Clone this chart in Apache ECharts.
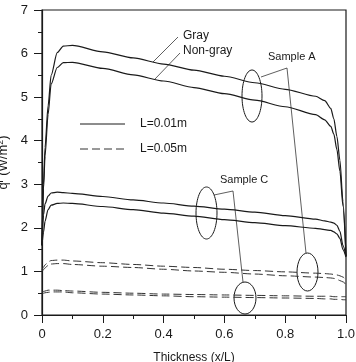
<!DOCTYPE html>
<html>
<head>
<meta charset="utf-8">
<script src="https://cdn.jsdelivr.net/npm/echarts@6/dist/echarts.min.js"></script>
<style>html,body{margin:0;padding:0;background:#fff;}#c{width:356px;height:362px;}</style>
</head>
<body>
<div id="c"></div>
<script>
// Data
var xValues = [0, 0.005, 0.01, 0.02, 0.03, 0.05, 0.07, 0.1, 0.2, 0.3, 0.4, 0.5, 0.6, 0.7, 0.8, 0.9, 0.93, 0.95, 0.96, 0.97, 0.98, 0.99, 1.0];
var grayA_L001    = [1.6, 3.0, 3.85, 4.8, 5.5, 6.02, 6.17, 6.19, 6.04, 5.9, 5.76, 5.62, 5.48, 5.33, 5.18, 5.02, 4.92, 4.74, 4.5, 4.1, 3.55, 2.6, 1.35];
var nongrayA_L001 = [1.6, 2.9, 3.65, 4.6, 5.3, 5.68, 5.79, 5.8, 5.66, 5.51, 5.37, 5.22, 5.08, 4.93, 4.78, 4.6, 4.48, 4.33, 4.15, 3.8, 3.3, 2.5, 1.35];
var grayC_L001    = [1.6, 2.3, 2.55, 2.73, 2.8, 2.82, 2.81, 2.79, 2.72, 2.64, 2.57, 2.5, 2.43, 2.36, 2.28, 2.2, 2.16, 2.13, 2.11, 2.06, 1.92, 1.6, 1.35];
var nongrayC_L001 = [1.6, 1.9, 2.15, 2.42, 2.52, 2.56, 2.57, 2.56, 2.49, 2.42, 2.34, 2.27, 2.19, 2.12, 2.05, 1.99, 1.96, 1.94, 1.91, 1.86, 1.76, 1.5, 1.33];
var grayA_L005    = [1.03, 1.1, 1.15, 1.22, 1.25, 1.26, 1.26, 1.24, 1.2, 1.16, 1.12, 1.09, 1.05, 1.02, 0.99, 0.96, 0.95, 0.94, 0.93, 0.92, 0.9, 0.87, 0.8];
var nongrayA_L005 = [1.0, 1.04, 1.08, 1.14, 1.17, 1.18, 1.18, 1.16, 1.12, 1.09, 1.05, 1.01, 0.98, 0.94, 0.9, 0.87, 0.86, 0.85, 0.84, 0.82, 0.79, 0.76, 0.7];
var grayC_L005    = [0.52, 0.54, 0.55, 0.57, 0.57, 0.57, 0.56, 0.55, 0.52, 0.5, 0.48, 0.47, 0.46, 0.45, 0.44, 0.43, 0.43, 0.43, 0.42, 0.42, 0.42, 0.42, 0.42];
var nongrayC_L005 = [0.48, 0.5, 0.51, 0.52, 0.53, 0.53, 0.53, 0.51, 0.48, 0.46, 0.44, 0.42, 0.41, 0.40, 0.39, 0.38, 0.37, 0.37, 0.36, 0.36, 0.36, 0.35, 0.35];
var xTickLabels = ['0', '0.2', '0.4', '0.6', '0.8', '1.0'];
var yTickLabels = ['0', '1', '2', '3', '4', '5', '6', '7'];

function pairs(ys) { return xValues.map(function (x, i) { return [x, ys[i]]; }); }

var FONT = 'Liberation Sans, Arial, sans-serif';
var INK = '#1a1a1a';

function solid(name, ys) {
  return { name: name, type: 'line', data: pairs(ys), symbol: 'none', smooth: 0.25, smoothMonotone: 'x',
    lineStyle: { color: INK, width: 1.2, type: 'solid' }, silent: true };
}
function dashed(name, ys) {
  return { name: name, type: 'line', data: pairs(ys), symbol: 'none', smooth: 0.25, smoothMonotone: 'x',
    lineStyle: { color: '#333', width: 1, type: [8, 4] }, silent: true };
}

var chart = echarts.init(document.getElementById('c'), null, { renderer: 'canvas' });
var option = {
  animation: false,
  backgroundColor: '#fff',
  grid: { left: 42, top: 10, right: 10, bottom: 47, show: true, borderColor: INK, borderWidth: 1.2,
    containLabel: false, outerBoundsMode: 'none' },
  xAxis: {
    type: 'value', min: 0, max: 1, interval: 0.2,
    name: 'Thickness (x/L)', nameLocation: 'middle', nameGap: 37,
    nameTextStyle: { fontFamily: FONT, fontSize: 12, color: INK },
    axisLine: { lineStyle: { color: INK, width: 1.2 } },
    axisTick: { show: true, inside: false, length: 8, lineStyle: { color: INK } },
    minorTick: { show: true, splitNumber: 2, length: 4, lineStyle: { color: INK } },
    splitLine: { show: false },
    axisLabel: { fontFamily: FONT, fontSize: 13, color: INK, margin: 13,
      formatter: function (v) { return xTickLabels[Math.round(v / 0.2)]; } }
  },
  yAxis: {
    type: 'value', min: 0, max: 7, interval: 1,
    name: '{a|q}{s|r}{a| (W/m}{s|2}{a|)}', nameLocation: 'middle', nameGap: 29,
    nameTextStyle: { fontFamily: FONT, fontSize: 13, color: INK,
      rich: { a: { fontFamily: FONT, fontSize: 13, color: INK }, s: { fontFamily: FONT, fontSize: 9, color: INK, verticalAlign: 'top', padding: [0, 0, 6, 0] } } },
    axisLine: { lineStyle: { color: INK, width: 1.2 } },
    axisTick: { show: true, inside: false, length: 8, lineStyle: { color: INK } },
    minorTick: { show: true, splitNumber: 2, length: 4, lineStyle: { color: INK } },
    splitLine: { show: false },
    axisLabel: { fontFamily: FONT, fontSize: 13, color: INK, margin: 14,
      formatter: function (v) { return yTickLabels[Math.round(v)]; } }
  },
  series: [
    solid('Gray A L=0.01m', grayA_L001),
    solid('Non-gray A L=0.01m', nongrayA_L001),
    solid('Gray C L=0.01m', grayC_L001),
    solid('Non-gray C L=0.01m', nongrayC_L001),
    dashed('Gray A L=0.05m', grayA_L005),
    dashed('Non-gray A L=0.05m', nongrayA_L005),
    dashed('Gray C L=0.05m', grayC_L005),
    dashed('Non-gray C L=0.05m', nongrayC_L005)
  ],
  graphic: [
    // legend
    { type: 'line', shape: { x1: 80, y1: 124, x2: 125, y2: 124 }, style: { stroke: INK, lineWidth: 1 } },
    { type: 'text', left: 140, top: 118, style: { text: 'L=0.01m', font: '12px ' + FONT, fill: INK } },
    { type: 'line', shape: { x1: 80, y1: 149, x2: 125, y2: 149 }, style: { stroke: '#333', lineWidth: 1, lineDash: [8, 4] } },
    { type: 'text', left: 140, top: 143, style: { text: 'L=0.05m', font: '12px ' + FONT, fill: INK } },
    // Gray / Non-gray labels
    { type: 'text', left: 183, top: 30, style: { text: 'Gray', font: '12px ' + FONT, fill: INK } },
    { type: 'text', left: 183, top: 45, style: { text: 'Non-gray', font: '12px ' + FONT, fill: INK } },
    { type: 'line', shape: { x1: 178, y1: 37, x2: 153, y2: 62 }, style: { stroke: INK, lineWidth: 0.7 } },
    { type: 'line', shape: { x1: 180, y1: 53, x2: 155, y2: 79 }, style: { stroke: INK, lineWidth: 0.7 } },
    // Sample A
    { type: 'text', left: 268, top: 51, style: { text: 'Sample A', font: '11px ' + FONT, fill: INK } },
    { type: 'ellipse', shape: { cx: 252, cy: 96, rx: 10, ry: 26 }, style: { fill: 'none', stroke: INK, lineWidth: 1 } },
    { type: 'polyline', shape: { points: [[261, 77], [287, 68], [306, 253]] }, style: { fill: 'none', stroke: INK, lineWidth: 0.7 } },
    { type: 'ellipse', shape: { cx: 307.5, cy: 272, rx: 10.5, ry: 19 }, style: { fill: 'none', stroke: INK, lineWidth: 1 } },
    // Sample C
    { type: 'text', left: 220, top: 174, style: { text: 'Sample C', font: '11px ' + FONT, fill: INK } },
    { type: 'ellipse', shape: { cx: 206.5, cy: 213, rx: 10.5, ry: 26 }, style: { fill: 'none', stroke: INK, lineWidth: 1 } },
    { type: 'polyline', shape: { points: [[214, 195], [233, 191], [243, 282]] }, style: { fill: 'none', stroke: INK, lineWidth: 0.7 } },
    { type: 'ellipse', shape: { cx: 245, cy: 298, rx: 11, ry: 16 }, style: { fill: 'none', stroke: INK, lineWidth: 1 } }
  ]
};
chart.setOption(option);
</script>
</body>
</html>
